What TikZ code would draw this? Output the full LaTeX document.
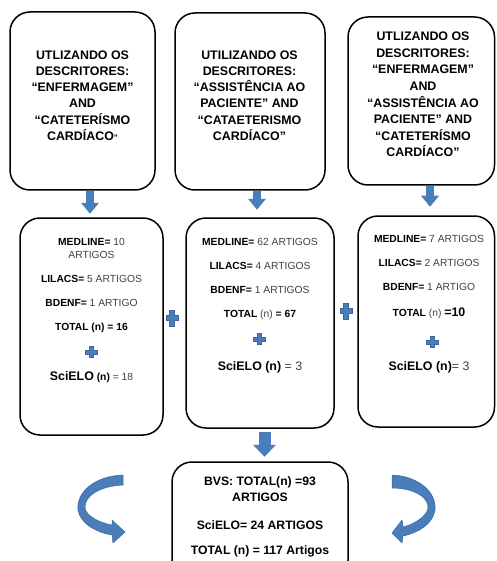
\documentclass[tikz,border=0pt]{standalone}
\usepackage{fontspec}
\setmainfont{Liberation Sans}
\usetikzlibrary{arrows.meta}
\definecolor{bfill}{HTML}{4A7EBB}
\definecolor{bedge}{HTML}{3A679E}
\definecolor{txtgray}{HTML}{404040}
\newcommand\mylab[1]{\textcolor{black}{\bfseries #1}}
\newcommand\mybig{\fontsize{12.4}{14}\selectfont}
\newcommand\drawplus[5]{%
  \filldraw[plusstyle] (#1-#5,#2-#4) -- (#1+#5,#2-#4) -- (#1+#5,#2-#5) -- (#1+#3,#2-#5)
  -- (#1+#3,#2+#5) -- (#1+#5,#2+#5) -- (#1+#5,#2+#4) -- (#1-#5,#2+#4) -- (#1-#5,#2+#5)
  -- (#1-#3,#2+#5) -- (#1-#3,#2-#5) -- (#1-#5,#2-#5) -- cycle;}
\begin{document}
\begin{tikzpicture}[x=1pt,y=-1pt,
  box/.style={draw=black, line width=1.5pt, rounded corners=20pt, inner sep=0pt},
  toptxt/.style={anchor=base, font=\fontsize{12.4}{15}\selectfont\bfseries, inner sep=0pt},
  midtxt/.style={anchor=base, font=\fontsize{10.3}{12}\selectfont, text=txtgray, inner sep=0pt},
  bottxt/.style={anchor=base, font=\fontsize{12.2}{15}\selectfont\bfseries, inner sep=0pt},
  blockarrow/.style={draw=bfill, line width=8pt, -{Triangle[width=18pt,length=11pt,line width=0pt]}},
  bigarrow/.style={draw=bfill, line width=12pt, -{Triangle[width=23pt,length=12pt,line width=0pt]}},
  plusstyle/.style={fill=bfill, draw=bedge, line width=0.4pt},
  curvestyle/.style={fill=bfill, draw=bedge, line width=0.5pt, line join=round}]
\useasboundingbox (0,0) rectangle (496,561);
\clip (0,0) rectangle (496,561);

% top boxes
\node[box, minimum width=145pt, minimum height=178pt] (b1) at (82.5,101) {};
\node[box, minimum width=150pt, minimum height=177pt] (b2) at (250,101.5) {};
\node[box, minimum width=146.5pt, minimum height=168pt] (b3) at (421.25,101) {};

% middle boxes
\node[box, minimum width=143pt, minimum height=217pt] (m1) at (91.5,326.5) {};
\node[box, minimum width=148pt, minimum height=210pt] (m2) at (260,323) {};
\node[box, minimum width=136.5pt, minimum height=211pt] (m3) at (426.25,321.5) {};

% bottom box
\node[box, minimum width=176pt, minimum height=118pt] (bt) at (260,521) {};

% top texts
\foreach \t [count=\i] in {UTLIZANDO OS, DESCRITORES:, “ENFERMAGEM”, AND, “CATETERÍSMO, {CARDÍACO{\fontsize{8}{8}\selectfont ”}}}
  \node[toptxt] (ta\i) at (82.5, 43.1+16.2*\i) {\t};
\foreach \t [count=\i] in {UTILIZANDO OS, DESCRITORES:, “ASSISTÊNCIA AO, PACIENTE” AND, “CATAETERISMO, CARDÍACO”}
  \node[toptxt] (tb\i) at (249.5, 43.1+16.2*\i) {\t};
\foreach \t [count=\i] in {UTLIZANDO OS, DESCRITORES:, “ENFERMAGEM”, AND, “ASSISTÊNCIA AO, PACIENTE” AND, “CATETERÍSMO, CARDÍACO”}
  \node[toptxt] (tc\i) at (423, 24.2+16.6*\i) {\t};

% middle box 1 texts
\node[midtxt] (m1a) at (91.5,245.7) {\mylab{MEDLINE=} 10};
\node[midtxt] (m1b) at (91.5,258.7) {ARTIGOS};
\node[midtxt] (m1c) at (91.5,282.7) {\mylab{LILACS=} 5 ARTIGOS};
\node[midtxt] (m1d) at (91.5,306.7) {\mylab{BDENF=} 1 ARTIGO};
\node[midtxt] (m1e) at (91.5,330.7) {\mylab{TOTAL (n) = 16}};
\node[midtxt] (m1f) at (91.5,380) {{\mybig\mylab{SciELO}} \mylab{(n)} = 18};
\drawplus{91}{352}{6}{5.5}{2}

% middle box 2 texts
\node[midtxt] (m2a) at (260,245.7) {\mylab{MEDLINE=} 62 ARTIGOS};
\node[midtxt] (m2b) at (260,269.7) {\mylab{LILACS=} 4 ARTIGOS};
\node[midtxt] (m2c) at (260,293.7) {\mylab{BDENF=} 1 ARTIGOS};
\node[midtxt] (m2d) at (260,317.7) {\mylab{TOTAL} (n) \mylab{= 67}};
\node[midtxt] (m2e) at (260,370.4) {\mybig\mylab{SciELO (n)} = 3};
\drawplus{259}{339}{6}{5.5}{2}

% middle box 3 texts
\node[midtxt] (m3a) at (429,242.7) {\mylab{MEDLINE=} 7 ARTIGOS};
\node[midtxt] (m3b) at (429,266.7) {\mylab{LILACS=} 2 ARTIGOS};
\node[midtxt] (m3c) at (429,290.7) {\mylab{BDENF=} 1 ARTIGO};
\node[midtxt] (m3d) at (429,316.7) {\mylab{TOTAL} (n) {\mybig\mylab{=10}}};
\node[midtxt] (m3e) at (429,370.4) {\mybig\mylab{SciELO (n)}= 3};
\drawplus{432}{342}{6}{5.5}{2}

% plus signs between boxes
\drawplus{172}{318}{6}{8}{2.5}
\drawplus{346}{311}{6}{8}{2.5}

% bottom texts
\node[bottxt] (bta) at (260,485.4) {BVS: TOTAL(n) =93};
\node[bottxt] (btb) at (260,501.4) {ARTIGOS};
\node[bottxt] (btc) at (260,529.4) {SciELO= 24 ARTIGOS};
\node[bottxt] (btd) at (260,554.4) {TOTAL (n) = 117 Artigos};

% block arrows
\coordinate (a1s) at ([xshift=7.5pt]b1.south);
\coordinate (a1e) at (a1s |- m1.north);
\draw[blockarrow, shorten >=3.5pt] (a1s) -- (a1e);
\coordinate (a2s) at ([xshift=7pt]b2.south);
\coordinate (a2e) at (a2s |- m2.north);
\draw[blockarrow, shorten >=7.5pt] (a2s) -- (a2e);
\coordinate (a3s) at ([xshift=8.75pt]b3.south);
\coordinate (a3e) at (a3s |- m3.north);
\draw[blockarrow, shorten >=8.5pt] (a3s) -- (a3e);
\coordinate (a4s) at ([xshift=4.5pt]m2.south);
\coordinate (a4e) at (a4s |- bt.north);
\draw[bigarrow, shorten <=3.5pt, shorten >=4.5pt] (a4s) -- (a4e);

% curved arrows
\filldraw[curvestyle] (123,475) .. controls (95,476) and (76,492) .. (78,510)
  .. controls (80,524) and (98,533) .. (112,535) -- (113,543) -- (125,532) -- (112,520) -- (112,525)
  .. controls (100,523) and (86,516) .. (85,508) .. controls (84,496) and (100,486) .. (123,485) -- cycle;
\filldraw[curvestyle] (392,475) .. controls (418,476) and (437,492) .. (435,510)
  .. controls (433,524) and (418,533) .. (403,536) -- (402,543) -- (392,533) -- (402,520) -- (403,527)
  .. controls (415,524) and (427,516) .. (428,508) .. controls (429,497) and (413,488) .. (392,488) -- cycle;
\end{tikzpicture}
\end{document}
